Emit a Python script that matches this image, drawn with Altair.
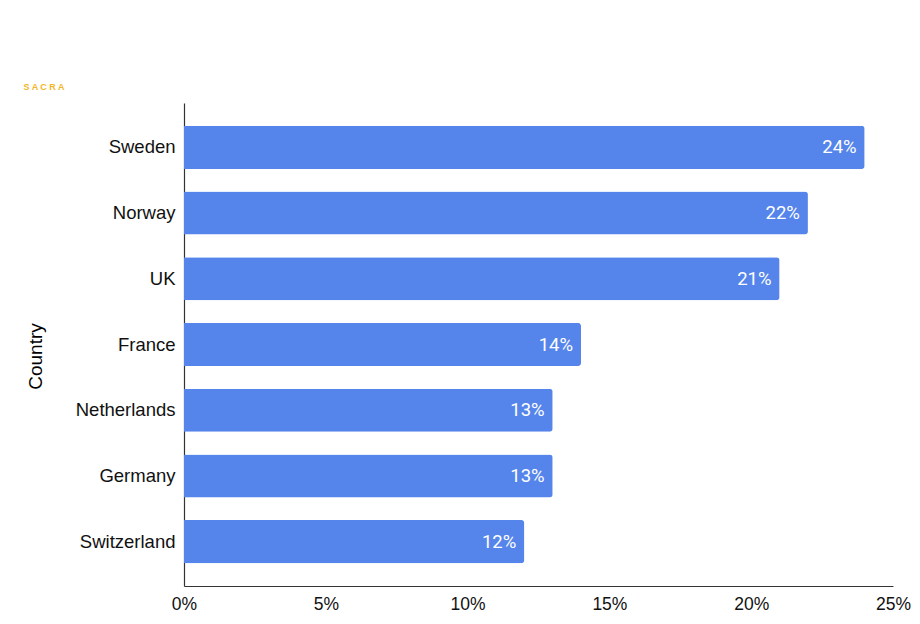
import altair as alt
import pandas as pd

countries = ["Sweden", "Norway", "UK", "France", "Netherlands", "Germany", "Switzerland"]
shares = [24, 22, 21, 14, 13, 13, 12]
labels = ["24%", "22%", "21%", "14%", "13%", "13%", "12%"]
x_ticks = [0, 5, 10, 15, 20, 25]

df = pd.DataFrame({"Country": countries, "Share": shares, "Label": labels})

FONT = "Liberation Sans"

y_enc = alt.Y(
    "Country:N",
    sort=countries,
    scale=alt.Scale(paddingInner=0.345, paddingOuter=0.348),
    axis=alt.Axis(
        title="Country",
        titleFont=FONT,
        titleFontSize=19,
        titleFontWeight="normal",
        titleColor="#000000",
        titleX=-139,
        titleY=253,
        titleAngle=-90,
        labelFont=FONT,
        labelFontSize=18.5,
        labelColor="#111111",
        labelPadding=9,
        ticks=False,
        domainColor="#333333",
        domainWidth=1.2,
        grid=False,
    ),
)

x_enc = alt.X(
    "Share:Q",
    scale=alt.Scale(domain=[0, 25], nice=False),
    axis=alt.Axis(
        title=None,
        values=x_ticks,
        labelExpr="datum.value + '%'",
        labelFont=FONT,
        labelFontSize=17.5,
        labelColor="#111111",
        labelPadding=9,
        ticks=False,
        domainColor="#333333",
        domainWidth=1.2,
        grid=False,
        labelFlush=False,
    ),
)

bars = alt.Chart(df).mark_bar(color="#5585EB", cornerRadiusEnd=3).encode(x=x_enc, y=y_enc)

text = alt.Chart(df).mark_text(
    align="right", baseline="middle", dx=-8, color="white", font="Roboto", fontSize=18.5
).encode(x="Share:Q", y=alt.Y("Country:N", sort=countries), text="Label:N")

logo = alt.Chart(pd.DataFrame({"t": ["S   A   C   R   A"]})).mark_text(
    font=FONT, fontSize=9, fontWeight="bold", color="#F4B627", align="center", baseline="middle"
).encode(x=alt.value(-140), y=alt.value(-16), text="t:N")

chart = (
    alt.layer(bars, text, logo)
    .properties(
        width=709,
        height=483,
        autosize=alt.AutoSizeParams(type="none"),
        padding={"left": 176, "top": 95, "right": 19, "bottom": 30},
        background="white",
    )
    .configure_view(stroke=None)
)

chart.save("out.html", embed_options={"renderer": "svg", "actions": False})
